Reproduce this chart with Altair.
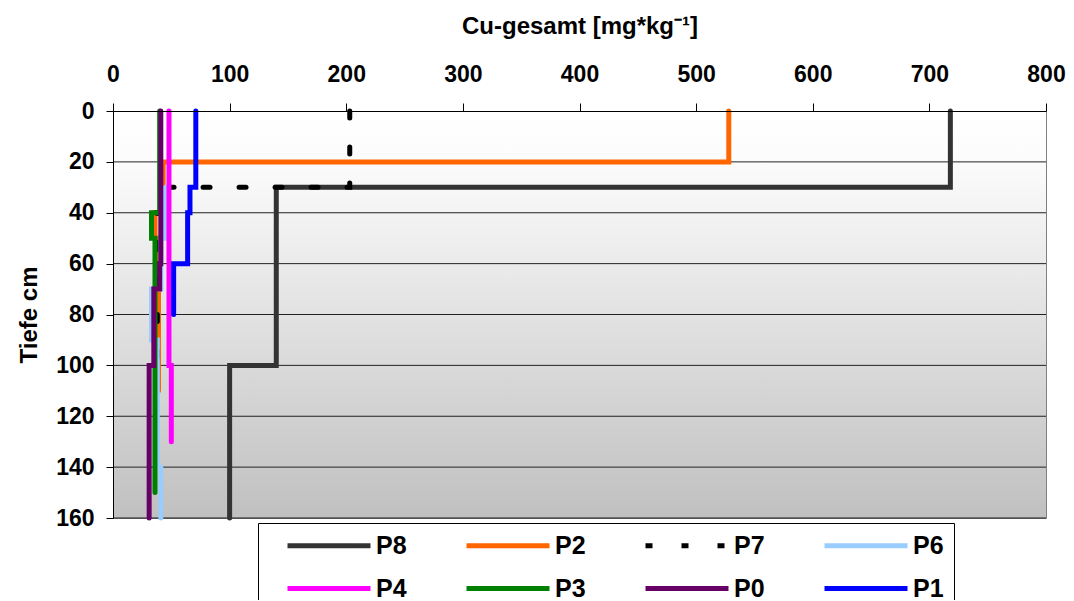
import altair as alt
import pandas as pd

# ---- data ----
profiles = ["P8", "P2", "P7", "P6", "P4", "P3", "P0", "P1"]
colors = ["#333333", "#FF6600", "#000000", "#99CCFF", "#FF00FF", "#008000", "#660066", "#0000FF"]
dashes = [[1, 0], [1, 0], [7, 29], [1, 0], [1, 0], [1, 0], [1, 0], [1, 0]]

p8_depth = [0, 30, 30, 100, 100, 160]
p8_cu = [718, 718, 140, 140, 100, 100]
p2_depth = [0, 20, 20, 40, 40, 50, 50, 110]
p2_cu = [528, 528, 43, 43, 36, 36, 39, 39]
p7_depth = [0, 30, 30, 40, 40, 100]
p7_cu = [203, 203, 45, 45, 38, 38]
p6_depth = [30, 50, 50, 70, 70, 90, 90, 140, 140, 160]
p6_cu = [45, 45, 41, 41, 33, 33, 38, 38, 41, 41]
p4_depth = [0, 100, 100, 130]
p4_cu = [48, 48, 50, 50]
p3_depth = [0, 40, 40, 50, 50, 150]
p3_cu = [40, 40, 33, 33, 36, 36]
p0_depth = [0, 60, 60, 70, 70, 100, 100, 160]
p0_cu = [41, 41, 40, 40, 35, 35, 31, 31]
p1_depth = [0, 30, 30, 40, 40, 60, 60, 80]
p1_cu = [71, 71, 66, 66, 64, 64, 52, 52]

x_ticks = [0, 100, 200, 300, 400, 500, 600, 700, 800]
y_ticks = [0, 20, 40, 60, 80, 100, 120, 140, 160]
grid_values = [20, 40, 60, 80, 100, 120, 140, 160]

series = [
    ("P8", p8_depth, p8_cu), ("P2", p2_depth, p2_cu), ("P7", p7_depth, p7_cu),
    ("P6", p6_depth, p6_cu), ("P4", p4_depth, p4_cu), ("P3", p3_depth, p3_cu),
    ("P0", p0_depth, p0_cu), ("P1", p1_depth, p1_cu),
]
rows = []
for k, (name, dep, cu) in enumerate(series):
    for i, (d, c) in enumerate(zip(dep, cu)):
        rows.append({"Profil": name, "Tiefe": d, "Cu": c, "order": i, "layer": k})
df = pd.DataFrame(rows)
grid_df = pd.DataFrame({"Tiefe": grid_values})

W, H = 933, 407
FONT = "Liberation Sans"

y_enc = alt.Y(
    "Tiefe:Q",
    scale=alt.Scale(domain=[0, 160], reverse=True, nice=False, zero=False),
    axis=alt.Axis(
        values=y_ticks, title="Tiefe cm", grid=False, tickSize=7, labelPadding=12,
        titlePadding=14, zindex=1, labelFlush=False,
    ),
)
x_enc = alt.X(
    "Cu:Q",
    scale=alt.Scale(domain=[0, 800], nice=False),
    axis=alt.Axis(
        orient="top", values=x_ticks, title="Cu-gesamt [mg*kg⁻¹]", grid=False,
        tickSize=8, labelPadding=17, titlePadding=25, zindex=1, labelFlush=False,
    ),
)

bg = alt.Chart(alt.Data(values=[{"a": 1}])).mark_rect(
    fill=alt.Gradient(
        gradient="linear",
        stops=[
            alt.GradientStop(color="#FFFFFF", offset=0),
            alt.GradientStop(color="#FCFCFC", offset=0.12),
            alt.GradientStop(color="#C0C0C0", offset=1),
        ],
        x1=0, x2=0, y1=0, y2=1,
    ),
).encode(x=alt.value(0), x2=alt.value(W), y=alt.value(0), y2=alt.value(H))

grid = alt.Chart(grid_df).mark_rule(color="#222222", strokeWidth=1).encode(y=y_enc)

# long horizontal legend line drawn by a custom symbol path (unit = sqrt(size)/2)
legend_symbol = "M0.7,0L9.0,0"

lines = alt.Chart(df).mark_line(strokeWidth=5, strokeCap="round", strokeJoin="miter").encode(
    x=x_enc,
    y=y_enc,
    color=alt.Color(
        "Profil:N",
        scale=alt.Scale(domain=profiles, range=colors),
        legend=alt.Legend(
            orient="none", legendX=145, legendY=412, title=None, columns=4,
            direction="horizontal",
            symbolType=legend_symbol, symbolSize=400, symbolStrokeWidth=5,
            labelFontSize=25, labelFont=FONT, labelFontWeight="bold", labelColor="#000000",
            labelOffset=83, columnPadding=40, rowPadding=17, padding=10,
            strokeColor="#000000", fillColor="#FFFFFF",
        ),
    ),
    strokeDash=alt.StrokeDash(
        "Profil:N",
        scale=alt.Scale(domain=profiles, range=dashes),
        legend=None,
    ),
    order=alt.Order("order:Q"),
)

chart = alt.layer(bg, grid, lines).properties(
    width=W, height=H,
    autosize=alt.AutoSizeParams(type="none"),
    padding={"left": 105, "top": 103, "right": 20, "bottom": 82},
).configure_view(
    stroke="#808080", strokeWidth=1,
).configure_axis(
    labelFont=FONT, labelFontSize=23, labelFontWeight="bold", labelColor="#000000",
    titleFont=FONT, titleFontSize=24, titleFontWeight="bold", titleColor="#000000",
    domainColor="#000000", tickColor="#000000", domainWidth=1,
)

chart.save("out.html", embed_options={"renderer": "svg", "actions": False})
